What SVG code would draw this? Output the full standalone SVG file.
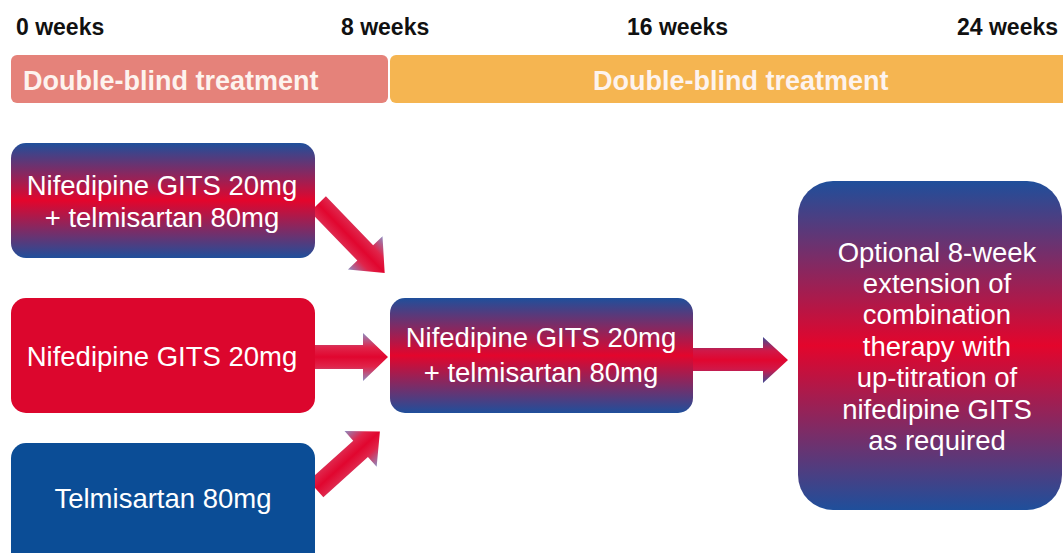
<svg xmlns="http://www.w3.org/2000/svg" width="1063" height="553" viewBox="0 0 1063 553">
<defs>
<linearGradient id="boxGrad" x1="0" y1="0" x2="0" y2="1">
<stop offset="0" stop-color="#1F4F9B"/>
<stop offset="0.5" stop-color="#E3052C"/>
<stop offset="1" stop-color="#1F4F9B"/>
</linearGradient>
<linearGradient id="arrowGrad" x1="0" y1="0" x2="0" y2="1">
<stop offset="0" stop-color="#8E8CC0"/>
<stop offset="0.3" stop-color="#E0244A"/>
<stop offset="0.5" stop-color="#E1062F"/>
<stop offset="0.7" stop-color="#E0244A"/>
<stop offset="1" stop-color="#8E8CC0"/>
</linearGradient>
<linearGradient id="arrowGrad2" x1="0" y1="0" x2="0" y2="1">
<stop offset="0" stop-color="#3F4B95"/>
<stop offset="0.3" stop-color="#D01848"/>
<stop offset="0.5" stop-color="#E1062F"/>
<stop offset="0.7" stop-color="#D01848"/>
<stop offset="1" stop-color="#3F4B95"/>
</linearGradient>
</defs>
<style>
.wk{font-family:"Liberation Sans",Arial,sans-serif;font-weight:bold;font-size:23px;fill:#111}
.bar{font-family:"Liberation Sans",Arial,sans-serif;font-weight:bold;font-size:27px;fill:#FDF3EE}
.nt{font-family:"Liberation Sans",Arial,sans-serif;font-size:27.5px;fill:#FFFFFF;text-anchor:middle}
</style>
<rect width="1063" height="553" fill="#FFFFFF"/>
<g id="timeline">
<text class="wk" x="16" y="35">0 weeks</text>
<text class="wk" x="341" y="35">8 weeks</text>
<text class="wk" x="627" y="35">16 weeks</text>
<text class="wk" x="957" y="35">24 weeks</text>
</g>
<g id="bar1">
<rect x="11" y="55" width="377" height="48" rx="6" fill="#E5827A"/>
<text class="bar" x="23" y="90">Double-blind treatment</text>
</g>
<g id="bar2">
<rect x="390" y="55" width="680" height="48" rx="6" fill="#F5B551"/>
<text class="bar" x="593" y="90">Double-blind treatment</text>
</g>
<g id="connectors">
<path transform="translate(318,204) rotate(46)" d="M0,-11 L68,-11 L68,-24 L96,0 L68,24 L68,11 L0,11 Z" fill="url(#arrowGrad)"/>
<path d="M315,345 L363,345 L363,333 L388,357 L363,381 L363,369 L315,369 Z" fill="url(#arrowGrad)"/>
<path transform="translate(316,489) rotate(-42)" d="M0,-11 L60,-11 L60,-24 L86,0 L60,24 L60,11 L0,11 Z" fill="url(#arrowGrad)"/>
<path d="M693,348 L763,348 L763,337 L788,360 L763,383 L763,371 L693,371 Z" fill="url(#arrowGrad2)"/>
</g>
<g id="node-combo">
<rect x="11" y="143" width="304" height="115" rx="15" fill="url(#boxGrad)"/>
<text class="nt" x="162" y="195">Nifedipine GITS 20mg</text>
<text class="nt" x="162" y="227">+ telmisartan 80mg</text>
</g>
<g id="node-nifedipine">
<rect x="11" y="298" width="304" height="115" rx="15" fill="#DC062D"/>
<text class="nt" x="162" y="366">Nifedipine GITS 20mg</text>
</g>
<g id="node-telmisartan">
<rect x="11" y="443" width="304" height="125" rx="15" fill="#0B4D96"/>
<text class="nt" x="163" y="508">Telmisartan 80mg</text>
</g>
<g id="node-center">
<rect x="390" y="298" width="303" height="115" rx="15" fill="url(#boxGrad)"/>
<text class="nt" x="541" y="347">Nifedipine GITS 20mg</text>
<text class="nt" x="541" y="382">+ telmisartan 80mg</text>
</g>
<g id="node-extension">
<rect x="798" y="181" width="264" height="329" rx="35" fill="url(#boxGrad)"/>
<text class="nt" x="937" y="262">Optional 8-week</text>
<text class="nt" x="937" y="293">extension of</text>
<text class="nt" x="937" y="324">combination</text>
<text class="nt" x="937" y="356">therapy with</text>
<text class="nt" x="937" y="387">up-titration of</text>
<text class="nt" x="937" y="419">nifedipine GITS</text>
<text class="nt" x="937" y="450">as required</text>
</g>
</svg>
